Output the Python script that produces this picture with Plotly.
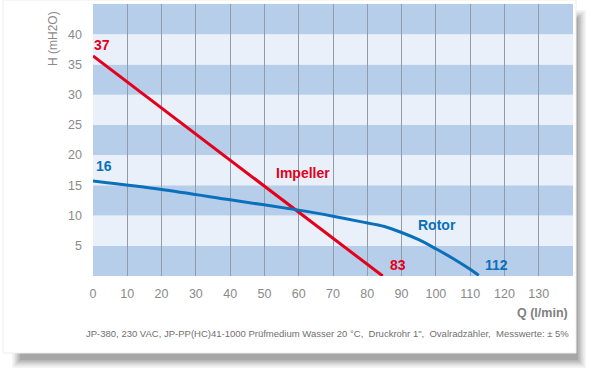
import plotly.graph_objects as go

# ---- data ----
impeller_q = [0, 84.5]
impeller_h = [36.4, 0]
rotor_q = [0, 20, 40, 60, 70, 78, 85, 90, 95, 100, 105, 110, 112.5]
rotor_h = [15.7, 14.3, 12.6, 10.9, 9.9, 9.0, 8.2, 7.2, 6.0, 4.5, 2.9, 1.1, 0.1]
x_ticks = [0, 10, 20, 30, 40, 50, 60, 70, 80, 90, 100, 110, 120, 130]
y_ticks = [5, 10, 15, 20, 25, 30, 35, 40]
band_edges = [0, 5, 10, 15, 20, 25, 30, 35, 40, 45]
labels = [  # text, x, y, colour key
    ("37", 2.5, 38.3, "red"),
    ("16", 3.2, 18.2, "blue"),
    ("Impeller", 61.2, 17.0, "red"),
    ("Rotor", 100.3, 8.5, "blue"),
    ("83", 88.9, 1.9, "red"),
    ("112", 117.8, 1.9, "blue"),
]
footnote = "JP-380, 230 VAC, JP-PP(HC)41-1000 Prüfmedium Wasser 20 °C,\u00a0 Druckrohr 1\",\u00a0 Ovalradzähler,\u00a0 Messwerte: ± 5%"

RED = "#e3001b"
BLUE = "#0a70bb"
DARK = "#b6cee9"
LIGHT = "#e9f0fa"
GRID = "#8f9cab"
FONT = "Liberation Sans Narrow, Arial Narrow, Liberation Sans, Arial, sans-serif"

fig = go.Figure()
fig.add_trace(go.Scatter(x=impeller_q, y=impeller_h, mode="lines",
                         line=dict(color=RED, width=3), showlegend=False))
fig.add_trace(go.Scatter(x=rotor_q, y=rotor_h, mode="lines",
                         line=dict(color=BLUE, width=3, shape="spline", smoothing=0.8),
                         showlegend=False))
# invisible trace on grid axis
fig.add_trace(go.Scatter(x=[0, 140], y=[0, 0], xaxis="x2", mode="lines",
                         line=dict(width=0), hoverinfo="skip", showlegend=False))

shapes = []
# shadow (soft, offset to lower right)
for i, op in enumerate([0.06, 0.08, 0.10, 0.12, 0.14, 0.16]):
    d = i * 1.6
    shapes.append(dict(type="rect", xref="paper", yref="paper", layer="below",
                       x0=(12 + d - 93) / 480, x1=(586 - d - 93) / 480,
                       y0=(276 - (368 - d)) / 272, y1=(276 - (10 + d)) / 272,
                       fillcolor="#555555", opacity=op, line=dict(width=0)))
# card
shapes.append(dict(type="rect", xref="paper", yref="paper", layer="below",
                   x0=(3 - 93) / 480, x1=(576 - 93) / 480,
                   y0=(276 - 353) / 272, y1=(276 - 0) / 272,
                   fillcolor="white", line=dict(color="#eeeeee", width=1)))
# bands
for i in range(len(band_edges) - 1):
    shapes.append(dict(type="rect", xref="paper", yref="y", layer="below",
                       x0=0, x1=1, y0=band_edges[i], y1=band_edges[i + 1],
                       fillcolor=DARK if i % 2 == 0 else LIGHT, line=dict(width=0)))

annotations = []
for text, x, y, c in labels:
    annotations.append(dict(text="<b>%s</b>" % text, x=x, y=y, xref="x", yref="y",
                            xanchor="center", yanchor="middle",
                            showarrow=False, font=dict(family=FONT, size=14,
                                                       color=RED if c == "red" else BLUE)))
annotations.append(dict(text="H (mH2O)", textangle=-90, x=(53 - 93) / 480, y=(276 - 39) / 272,
                        xref="paper", yref="paper", showarrow=False,
                        xanchor="center", yanchor="middle",
                        font=dict(family=FONT, size=12, color="#8a8a8a")))
annotations.append(dict(text="<b>Q (l/min)</b>", x=(542 - 93) / 480, y=(276 - 313) / 272,
                        xref="paper", yref="paper", showarrow=False,
                        xanchor="center", yanchor="middle",
                        font=dict(family=FONT, size=12.5, color="#808080")))
annotations.append(dict(text=footnote, x=(327 - 93) / 480, y=(276 - 333) / 272,
                        xref="paper", yref="paper", showarrow=False,
                        xanchor="center", yanchor="middle",
                        font=dict(family=FONT, size=9.5, color="#707070")))

fig.update_layout(
    width=591, height=372,
    margin=dict(l=93, r=18, t=4, b=96),
    paper_bgcolor="white", plot_bgcolor="rgba(0,0,0,0)",
    shapes=shapes, annotations=annotations,
    xaxis=dict(range=[0, 140], tickvals=x_ticks, showgrid=False, zeroline=False,
               showline=False, ticks="", tickfont=dict(family=FONT, size=12.5, color="#8a8a8a"),
               ticklabelstandoff=8),
    xaxis2=dict(range=[0, 140], overlaying="x", tickvals=x_ticks[1:] + [140], showgrid=True,
                gridcolor=GRID, gridwidth=1, showticklabels=False, zeroline=False, ticks=""),
    yaxis=dict(range=[0, 45], tickvals=y_ticks, showgrid=False, zeroline=False,
               showline=False, ticks="", tickfont=dict(family=FONT, size=12.5, color="#8a8a8a"),
               ticklabelstandoff=10),
)
fig.write_html("out.html", config={"displayModeBar": False},
               post_script="document.body.style.margin='0';document.body.style.overflow='hidden';")
